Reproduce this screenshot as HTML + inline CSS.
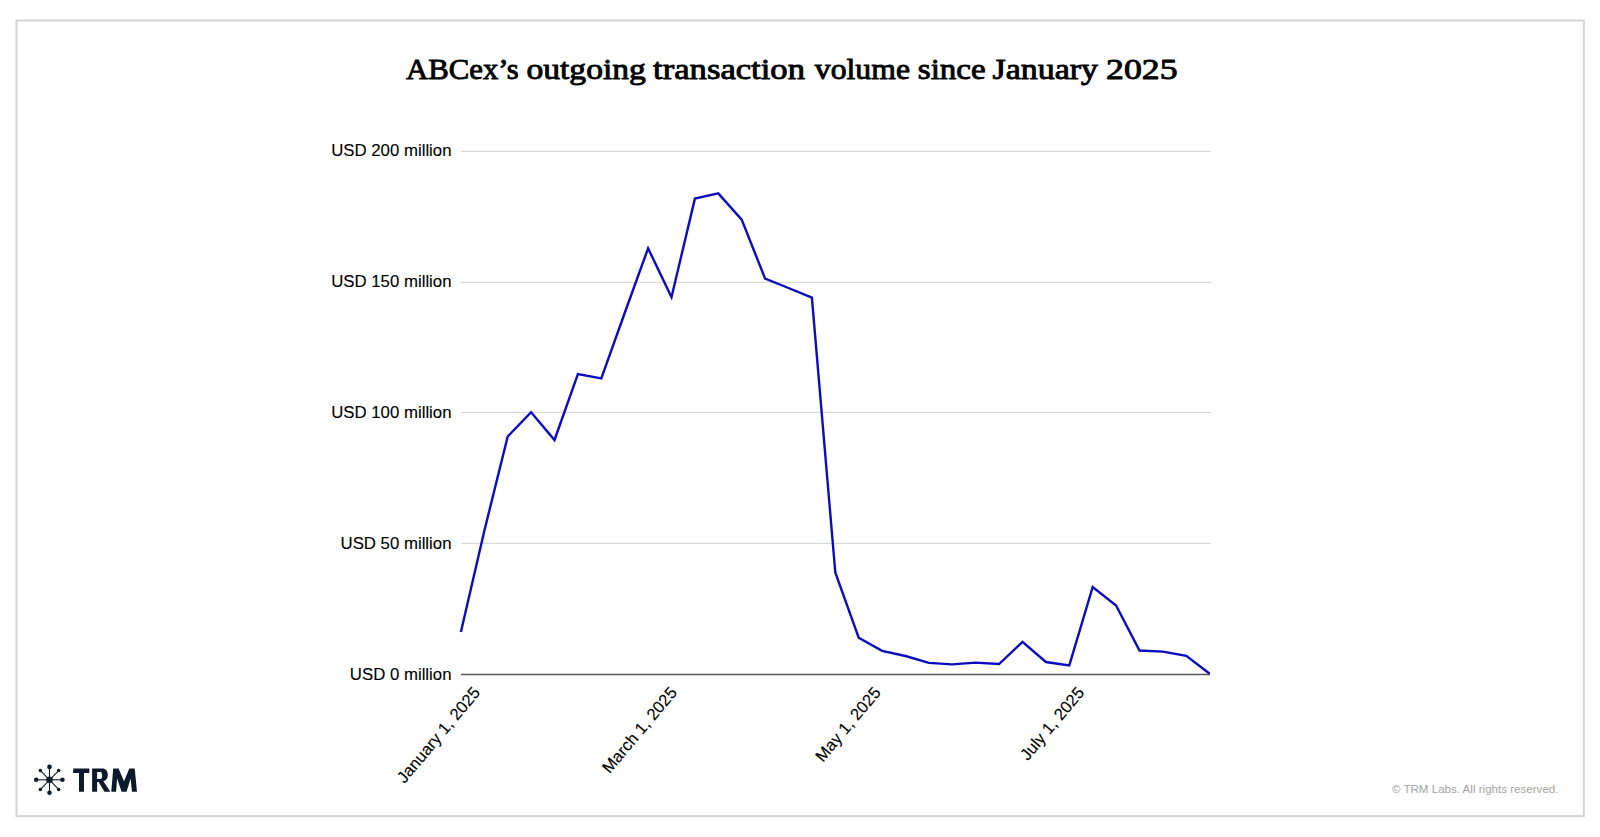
<!DOCTYPE html>
<html><head><meta charset="utf-8">
<style>
html,body{margin:0;padding:0;background:#fff;width:1600px;height:837px;overflow:hidden}
svg{position:absolute;left:0;top:0;opacity:0.999}
</style></head><body>
<svg width="1600" height="837" viewBox="0 0 1600 837">
<rect x="16.5" y="20.5" width="1567.3" height="795.6" fill="#fff" stroke="#d4d4d4" stroke-width="2"/>
<g font-family="Liberation Serif" font-size="30.0" fill="#000" stroke="#000" stroke-width="0.9" stroke-linejoin="round">
<text y="79.15" lengthAdjust="spacingAndGlyphs" x="406.0" textLength="112.8">ABCex’s</text>
<text y="79.15" lengthAdjust="spacingAndGlyphs" x="526.4" textLength="119.5">outgoing</text>
<text y="79.15" lengthAdjust="spacingAndGlyphs" x="653.1" textLength="151.9">transaction</text>
<text y="79.15" lengthAdjust="spacingAndGlyphs" x="814.8" textLength="95.2">volume</text>
<text y="79.15" lengthAdjust="spacingAndGlyphs" x="917.8" textLength="67.9">since</text>
<text y="79.15" lengthAdjust="spacingAndGlyphs" x="992.5" textLength="105.5">January</text>
<text y="79.15" lengthAdjust="spacingAndGlyphs" x="1106.1" textLength="71.4">2025</text>
</g>
<g stroke="#d9d9d9" stroke-width="1.2">
<line x1="461" y1="151.4" x2="1211" y2="151.4"/>
<line x1="461" y1="282.4" x2="1211" y2="282.4"/>
<line x1="461" y1="412.4" x2="1211" y2="412.4"/>
<line x1="461" y1="543.4" x2="1211" y2="543.4"/>
</g>
<line x1="461" y1="674.5" x2="1210" y2="674.5" stroke="#555" stroke-width="1.3"/>
<g font-family="Liberation Sans" font-size="16.8" fill="#000" stroke="#000" stroke-width="0.12" text-anchor="end">
<text x="451.5" y="156.3">USD 200 million</text>
<text x="451.5" y="287.3">USD 150 million</text>
<text x="451.5" y="418.4">USD 100 million</text>
<text x="451.5" y="548.8">USD 50 million</text>
<text x="451.5" y="679.8">USD 0 million</text>
</g>
<polyline points="460.9,632 484.3,531 507.7,436.5 531.1,412.2 554.5,440 577.9,374 601.3,378.5 624.7,313 648.1,248.3 671.5,297.2 694.9,198.6 718.3,193.4 741.7,219.6 765.1,278.6 788.5,288 811.9,297.6 835.3,572.5 858.7,637.7 882.1,650.9 905.5,656 928.9,662.9 952.3,664.4 975.7,662.6 999.1,664 1022.5,641.9 1045.9,662 1069.3,665.4 1092.7,587 1116.1,605.5 1139.5,650.5 1162.9,651.6 1186.3,655.8 1209.7,673.8" fill="none" stroke="#0b0bc0" stroke-width="2.4" stroke-linejoin="miter"/>
<g font-family="Liberation Sans" font-size="16.6" fill="#000" stroke="#000" stroke-width="0.12" text-anchor="end">
<text transform="translate(481.0,693) rotate(-50)">January 1, 2025</text>
<text transform="translate(677.9,693) rotate(-50)">March 1, 2025</text>
<text transform="translate(881.6,693) rotate(-50)">May 1, 2025</text>
<text transform="translate(1085.2,693) rotate(-50)">July 1, 2025</text>
</g>
<g fill="#0f1b2b" stroke="#0f1b2b">
<g stroke-width="1.1">
<line x1="49.5" y1="767" x2="49.5" y2="792.6"/>
<line x1="36.2" y1="779.8" x2="62.4" y2="779.8"/>
<line x1="40.4" y1="770.6" x2="58.7" y2="789.4"/>
<line x1="58.7" y1="770.6" x2="40.4" y2="789.4"/>
</g>
<g stroke="none">
<circle cx="49.5" cy="779.8" r="3.3"/>
<circle cx="49.5" cy="766.9" r="2.3"/>
<circle cx="49.5" cy="792.7" r="2.3"/>
<circle cx="36.2" cy="779.8" r="2.3"/>
<circle cx="62.4" cy="779.8" r="2.3"/>
<circle cx="40.4" cy="770.6" r="1.75"/>
<circle cx="58.7" cy="770.6" r="1.75"/>
<circle cx="40.4" cy="789.4" r="1.75"/>
<circle cx="58.7" cy="789.4" r="1.75"/>
</g>
</g>
<g fill="#0c1a2c" transform="translate(0,0.3)">
<path d="M73.2,768.3H89.3V772.6H84V791.4H79V772.6H73.2Z"/>
<path fill-rule="evenodd" d="M92.1,768.3H102.3C105.9,768.3 107.8,771 107.8,774.7C107.8,777.9 106.2,780.3 103.4,781L110.3,791.4H104.5L98.6,781.7H97.1V791.4H92.1ZM97.1,771.6H100.4C101.7,771.6 102.1,773.4 102.1,775.2C102.1,777 101.7,778.8 100.4,778.8H97.1Z"/>
<path d="M111.3,791.4L113.2,768.3H118.6L124,781L129.3,768.3H134.7L137,791.4H132L130.6,778.2L126.6,791.4H121.6L117.1,778.2L116.1,791.4Z"/>
</g>
<text x="1558.5" y="793.3" text-anchor="end" font-family="Liberation Sans" font-size="11.6" fill="#a3a3a3" textLength="166.6" lengthAdjust="spacingAndGlyphs">© TRM Labs. All rights reserved.</text>
</svg>
</body></html>
